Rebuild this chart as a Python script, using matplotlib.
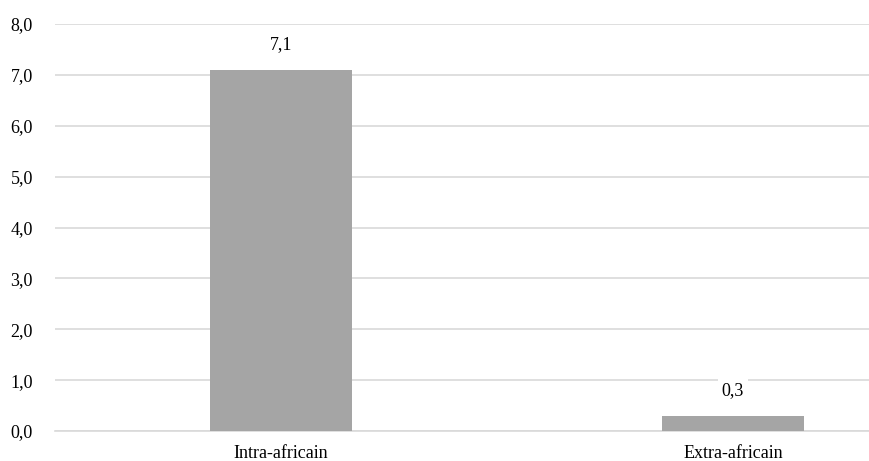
import matplotlib
matplotlib.use("Agg")
import matplotlib.pyplot as plt

categories = ["Intra-africain", "Extra-africain"]
values = [7.1, 0.3]
value_labels = ["7,1", "0,3"]
y_ticks = [0, 1, 2, 3, 4, 5, 6, 7, 8]
y_tick_labels = ["0,0", "1,0", "2,0", "3,0", "4,0", "5,0", "6,0", "7,0", "8,0"]

plt.rcParams['font.family'] = ['Liberation Serif', 'DejaVu Serif']

fig = plt.figure(figsize=(8.7, 4.61), dpi=100)
W, H = 870, 461
left, right = 55, 870
top, bottom = 24, 431
ax = fig.add_axes([left / W, 1 - bottom / H, (right - left) / W, (bottom - top) / H])

x = list(range(len(categories)))
ax.bar(x, values, width=0.312, color="#a5a5a5", zorder=3)
ax.set_xlim(-0.5, -0.5 + (right - left) / 452)
ax.set_ylim(0, 8)
ax.set_yticks(y_ticks)
ax.set_yticklabels(y_tick_labels, fontsize=13)
ax.set_xticks(x)
ax.set_xticklabels(categories, fontsize=13)
ax.tick_params(axis="both", length=0, colors="#000000")
ax.tick_params(axis="y", pad=16)
ax.tick_params(axis="x", pad=10)
ax.grid(axis="y", color="#d9d9d9", linewidth=1.2, zorder=0)
for s in ["top", "right", "left"]:
    ax.spines[s].set_visible(False)
ax.spines["bottom"].set_color("#d9d9d9")
ax.spines["bottom"].set_linewidth(1.2)

for xi, v, lab in zip(x, values, value_labels):
    ax.annotate(lab, (xi, v), xytext=(0, 18), textcoords="offset points",
                ha="center", va="center", fontsize=13, zorder=5,
                bbox=dict(facecolor="white", edgecolor="none", pad=3))

fig.savefig("out.png", dpi=100, facecolor="white")
